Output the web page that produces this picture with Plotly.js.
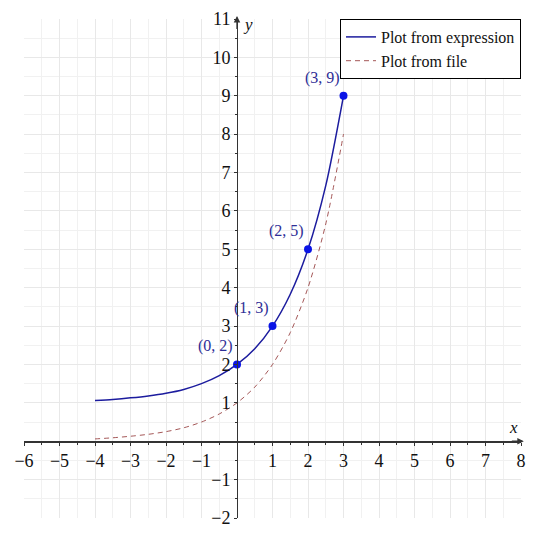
<!DOCTYPE html>
<html>
<head>
<meta charset="utf-8">
<script src="https://cdn.plot.ly/plotly-3.0.1.min.js"></script>
<style>html,body{margin:0;padding:0;background:#fff}</style>
</head>
<body>
<div id="chart" style="width:540px;height:537px"></div>
<script>
const exprX = [-4, -3.5, -3, -2.5, -2, -1.5, -1, -0.5, 0, 0.5, 1, 1.5, 2, 2.5, 3];
const exprY = [1.06, 1.09, 1.13, 1.18, 1.25, 1.35, 1.5, 1.71, 2, 2.41, 3, 3.83, 5, 6.66, 9];
const fileX = [-4, -3.5, -3, -2.5, -2, -1.5, -1, -0.5, 0, 0.5, 1, 1.5, 2, 2.5, 3];
const fileY = [0.06, 0.09, 0.13, 0.18, 0.25, 0.35, 0.5, 0.71, 1, 1.41, 2, 2.83, 4, 5.66, 8];
const ptX = [0, 1, 2, 3];
const ptY = [2, 3, 5, 9];
const ptLabels = ["(0, 2)", "(1, 3)", "(2, 5)", "(3, 9)"];
const xTicks = [-6, -5, -4, -3, -2, -1, 1, 2, 3, 4, 5, 6, 7, 8];
const yTicks = [-2, -1, 1, 2, 3, 4, 5, 6, 7, 8, 9, 10, 11];
const seriesNames = ["Plot from expression", "Plot from file"];

const serif = "Liberation Serif, Times New Roman, serif";
const axisColor = "#333333";

const traces = [
  {x: exprX, y: exprY, mode: "lines", name: seriesNames[0],
   line: {color: "#1c1c9e", width: 1.5, shape: "spline", smoothing: 0.8}},
  {x: fileX, y: fileY, mode: "lines", name: seriesNames[1],
   line: {color: "#9a4444", width: 0.9, dash: "5px,4px", shape: "spline", smoothing: 0.8}},
  {x: ptX, y: ptY, mode: "markers", showlegend: false, cliponaxis: false,
   marker: {color: "#0a14e6", size: 8}}
];

function ticksText(v) { return v.map(t => t < 0 ? "\u2212" + Math.abs(t) : String(t)); }

const pointAnnotations = ptX.map((x, i) => ({
  x: x, y: ptY[i], xref: "x", yref: "y", text: ptLabels[i], showarrow: false,
  xanchor: "right", yanchor: "bottom", xshift: -3, yshift: 8, borderpad: 0,
  font: {family: serif, size: 16, color: "#2e2e96"}
}));

const layout = {
  width: 540, height: 537,
  margin: {l: 24, r: 19, t: 19, b: 19},
  paper_bgcolor: "#fff", plot_bgcolor: "#fff",
  showlegend: true,
  legend: {x: 1, xanchor: "right", y: 1, yanchor: "top",
           bgcolor: "#fff", bordercolor: "#000", borderwidth: 1,
           font: {family: serif, size: 16, color: "#111"},
           tracegroupgap: 0, itemwidth: 30},
  xaxis: {range: [-6, 8], anchor: "free", position: 2/13,
          showline: true, linecolor: axisColor, linewidth: 1.3,
          zeroline: false, showgrid: true, gridcolor: "#e8e8e8", gridwidth: 1,
          tickmode: "array", tickvals: xTicks, ticktext: ticksText(xTicks),
          ticks: "outside", ticklen: 3, tickcolor: axisColor,
          tickfont: {family: serif, size: 18, color: "#111"},
          minor: {dtick: 0.5, tick0: 0, showgrid: true, gridcolor: "#f1f1f1",
                  ticks: "outside", ticklen: 2, tickcolor: axisColor}},
  yaxis: {range: [-2, 11], anchor: "free", position: 6/14,
          showline: true, linecolor: axisColor, linewidth: 1.3,
          zeroline: false, showgrid: true, gridcolor: "#e8e8e8", gridwidth: 1,
          tickmode: "array", tickvals: yTicks, ticktext: ticksText(yTicks),
          ticks: "outside", ticklen: 3, tickcolor: axisColor,
          tickfont: {family: serif, size: 18, color: "#111"},
          minor: {dtick: 0.5, tick0: 0, showgrid: true, gridcolor: "#f1f1f1",
                  ticks: "outside", ticklen: 2, tickcolor: axisColor}},
  annotations: [
    {x: 8.08, y: 0, ax: 7.7, ay: 0, axref: "x", ayref: "y", xref: "x", yref: "y",
     text: "", showarrow: true, arrowhead: 2, arrowsize: 1, arrowwidth: 1.3, arrowcolor: axisColor},
    {x: 0, y: 11.08, ax: 0, ay: 10.7, axref: "x", ayref: "y", xref: "x", yref: "y",
     text: "", showarrow: true, arrowhead: 2, arrowsize: 1, arrowwidth: 1.3, arrowcolor: axisColor},
    {x: 7.8, y: 0.05, xref: "x", yref: "y", text: "<i>x</i>", showarrow: false,
     xanchor: "center", yanchor: "bottom", font: {family: serif, size: 17, color: "#111"}},
    {x: 0.12, y: 10.85, xref: "x", yref: "y", text: "<i>y</i>", showarrow: false,
     xanchor: "left", yanchor: "middle", font: {family: serif, size: 17, color: "#111"}}
  ].concat(pointAnnotations)
};

Plotly.newPlot("chart", traces, layout, {displayModeBar: false, staticPlot: true});
</script>
</body>
</html>
